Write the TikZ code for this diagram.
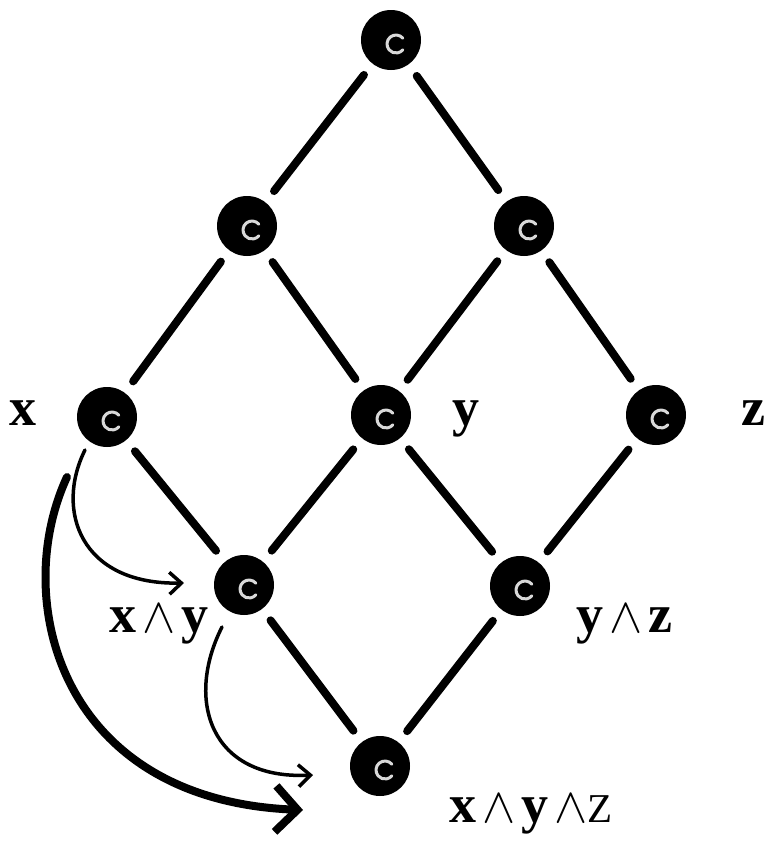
\documentclass[tikz,border=0pt]{standalone}
\usepackage{fontspec}
\setmainfont{Liberation Serif}
\usepackage{graphicx}
\usetikzlibrary{arrows.meta}
\newcommand{\wdg}{\scalebox{2.0}{\fontsize{24.88}{30}\selectfont$\wedge$}}
\tikzset{
  vert/.style={circle, fill=black, minimum size=60pt, inner sep=0pt,
    path picture={\draw[white!85!black, line width=3pt, line cap=round]
      ([xshift=5pt,yshift=-4pt]path picture bounding box.center) ++(40:9pt)
      arc[start angle=40, end angle=320, radius=9pt];}},
  link/.style={line width=8pt, line cap=round, shorten <=14pt, shorten >=14pt},
  lbl/.style={inner sep=0pt, font=\fontsize{54}{60}\selectfont\bfseries},
  thinarrow/.style={line width=3.5pt, line cap=round,
    -{Straight Barb[length=12pt, width=22pt, line width=3.5pt]}},
  bigarrow/.style={line width=8pt, line cap=round,
    -{Straight Barb[length=22pt, width=46pt, line width=8pt]}},
}
\begin{document}
\begin{tikzpicture}[x=1pt, y=-1pt]
\useasboundingbox (0,0) rectangle (767,841);
% vertices
\node[vert] (top) at (391,40) {};
\node[vert] (l2) at (247,226) {};
\node[vert] (r2) at (524,226) {};
\node[vert] (nx) at (107,417) {};
\node[vert] (ny) at (381,415) {};
\node[vert] (nz) at (656,415) {};
\node[vert] (nxy) at (244,585) {};
\node[vert] (nyz) at (520,586) {};
\node[vert] (bot) at (380,766) {};
% lattice edges
\draw[link] (top) -- (l2);
\draw[link] (top) -- (r2);
\draw[link] (l2) -- (nx);
\draw[link] (l2) -- (ny);
\draw[link] (r2) -- (ny);
\draw[link] (r2) -- (nz);
\draw[link] (nx) -- (nxy);
\draw[link] (ny) -- (nxy);
\draw[link] (ny) -- (nyz);
\draw[link] (nz) -- (nyz);
\draw[link] (nxy) -- (bot);
\draw[link] (nyz) -- (bot);
% labels
\node[lbl, anchor=base] (lx) at (23,425) {x};
\node[lbl, anchor=base] (ly) at (466,425) {y};
\node[lbl, anchor=base] (lz) at (753,425) {z};
\node[lbl, anchor=base west] (lxy) at (109,632) {x\hspace{6pt}\wdg\hspace{6pt}y};
\node[lbl, anchor=base west] (lyz) at (576,632) {y\hspace{6pt}\wdg\hspace{6pt}z};
\node[lbl, anchor=base west] (lxyz) at (449,822) {x\hspace{6pt}\wdg\hspace{6pt}y\hspace{6pt}\wdg{\fontsize{41}{48}\selectfont\mdseries Z}};
% arrows
\coordinate (a1s) at (85,450);
\coordinate (a1e) at (184,583);
\coordinate (a2s) at (67,477);
\coordinate (a2e) at (303,810);
\coordinate (a3s) at (222,627);
\coordinate (a3e) at (313,775);
\draw[thinarrow] (a1s) .. controls (55,510) and (80,585) .. (a1e);
\draw[bigarrow] (a2s) .. controls (10,600) and (60,800) .. (a2e);
\draw[thinarrow] (a3s) .. controls (185,700) and (210,780) .. (a3e);
\end{tikzpicture}
\end{document}
